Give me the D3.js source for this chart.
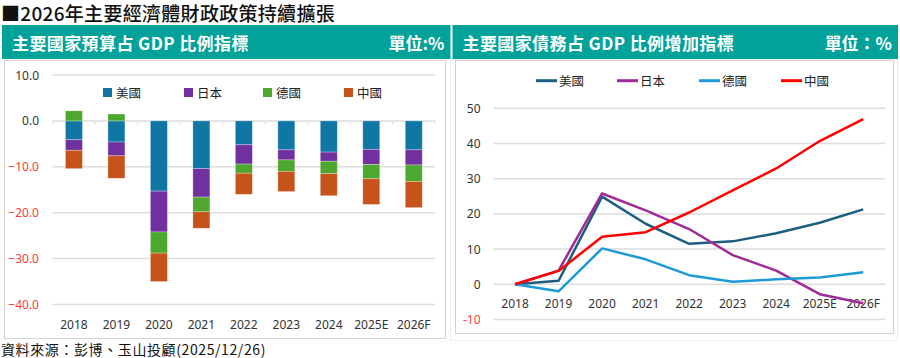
<!DOCTYPE html>
<html><head><meta charset="utf-8">
<script src="https://cdn.jsdelivr.net/npm/d3@7"></script>
<style>
html,body{margin:0;padding:0;background:#fff;}
svg{display:block;font-family:"Noto Sans","Noto Sans CJK TC",sans-serif;}
</style></head><body>
<svg id="c" width="900" height="358"></svg>
<script>
const years = ["2018","2019","2020","2021","2022","2023","2024","2025E","2026F"];
const countries = ["美國","日本","德國","中國"];
// Budget balance (% GDP)
const budgetUS = [-4.1,-4.6,-15.3,-10.4,-5.2,-6.3,-6.8,-6.2,-6.3];
const budgetJP = [-2.3,-3.0,-8.9,-6.2,-4.2,-2.2,-2.0,-3.3,-3.3];
const budgetDE = [2.2,1.5,-4.6,-3.2,-2.0,-2.5,-2.7,-3.1,-3.6];
const budgetCN = [-4.0,-4.9,-6.2,-3.6,-4.6,-4.4,-4.8,-5.6,-5.7];
// Debt increase (% GDP, vs 2018)
const debtUS = [0,1.0,24.9,17.2,11.5,12.2,14.5,17.5,21.3];
const debtJP = [0,3.9,25.8,21.0,15.7,8.3,3.9,-2.8,-5.4];
const debtDE = [0,-2.0,10.2,7.1,2.6,0.7,1.4,1.9,3.4];
const debtCN = [0,3.8,13.5,14.8,20.4,26.7,32.9,40.7,46.9];
const leftTicks = [10,0,-10,-20,-30,-40];
const rightTicks = [50,40,30,20,10,0,-10];

const barColors = ["#1076A3","#7030A0","#4EA72E","#C5531A"];
const lineColors = ["#1D5E80","#A02B98","#1E9BD7","#FF0000"];
const teal = "#00A29A";

const svg = d3.select("#c");

// Title
svg.append("text").attr("x",1).attr("y",12).attr("dominant-baseline","central").attr("font-size",19).attr("font-weight",500)
  .attr("letter-spacing",0.3)
  .attr("fill","#111").attr("font-family","'Noto Sans CJK TC',sans-serif")
  .text("■2026年主要經濟體財政政策持續擴張");

// Banners
function banner(x,w,title,unit){
  svg.append("rect").attr("x",x).attr("y",25).attr("width",w).attr("height",34).attr("fill",teal);
  svg.append("text").attr("x",x+10).attr("y",42).attr("dominant-baseline","central")
    .attr("font-size",17).attr("font-weight","bold").attr("fill","#fff").attr("letter-spacing",0.4)
    .attr("font-family","'Noto Sans CJK TC',sans-serif").text(title);
  svg.append("text").attr("x",x+w-6).attr("y",42).attr("dominant-baseline","central")
    .attr("text-anchor","end").attr("font-size",17).attr("font-weight","bold").attr("fill","#fff")
    .attr("font-family","'Noto Sans CJK TC',sans-serif").text(unit);
}
banner(2,448.5,"主要國家預算占 GDP 比例指標","單位:%");
banner(452.5,445.5,"主要國家債務占 GDP 比例增加指標","單位：%");

// Panels
svg.append("rect").attr("x",450.5).attr("y",59.5).attr("width",447).attr("height",281).attr("fill","none").attr("stroke","#EEEEEE");
svg.append("rect").attr("x",4.5).attr("y",60.5).attr("width",441).attr("height",278).attr("fill","#fff").attr("stroke","#D4D4D4");
svg.append("rect").attr("x",455.5).attr("y",60.5).attr("width",438).attr("height",273).attr("fill","#fff").attr("stroke","#D4D4D4");

// Source
svg.append("text").attr("x",1).attr("y",348.5).attr("dominant-baseline","central")
  .attr("font-size",14).attr("letter-spacing",0.6).attr("fill","#111").attr("font-family","'Noto Sans CJK TC',sans-serif")
  .text("資料來源：彭博、玉山投顧(2025/12/26)");

// ---------- Left chart ----------
const xL = d3.scaleBand().domain(years).range([52.7,435]).paddingInner(0.6).paddingOuter(0.3);
const yL = d3.scaleLinear().domain([-40,10]).range([304.5,75]);
const gL = svg.append("g");
gL.selectAll("line.grid").data(leftTicks).join("line")
  .attr("x1",52.7).attr("x2",435).attr("y1",d=>yL(d)).attr("y2",d=>yL(d))
  .attr("stroke","#DDDDDD").attr("stroke-width",1.5);
gL.selectAll("text.yl").data(leftTicks).join("text")
  .attr("x",39).attr("y",d=>yL(d)).attr("text-anchor","end").attr("dominant-baseline","central")
  .attr("font-size",12).attr("fill",d=>d<0?"#FF3B3B":"#333")
  .text(d=>d3.format(".1f")(d));
// category ticks on zero line
const bounds = years.map(y=>xL(y)-xL.step()*xL.paddingInner()/2).concat([435]);
gL.selectAll("line.tk").data(bounds).join("line")
  .attr("x1",d=>d).attr("x2",d=>d).attr("y1",yL(0)).attr("y2",yL(0)+3.5)
  .attr("stroke","#DDDDDD").attr("stroke-width",1);

const rows = years.map((y,i)=>({year:y,"美國":budgetUS[i],"日本":budgetJP[i],"德國":budgetDE[i],"中國":budgetCN[i]}));
const stack = d3.stack().keys(countries).offset(d3.stackOffsetDiverging)(rows);
gL.selectAll("g.s").data(stack).join("g").attr("fill",(d,i)=>barColors[i])
  .selectAll("rect").data(d=>d).join("rect")
  .attr("x",d=>xL(d.data.year)).attr("width",xL.bandwidth())
  .attr("y",d=>yL(Math.max(d[0],d[1]))).attr("height",d=>Math.abs(yL(d[0])-yL(d[1])))
  .attr("stroke","rgba(255,255,255,0.35)").attr("stroke-width",0.8);
gL.selectAll("text.xl").data(years).join("text")
  .attr("x",d=>xL(d)+xL.bandwidth()/2).attr("y",324).attr("text-anchor","middle").attr("dominant-baseline","central")
  .attr("font-size",12).attr("fill","#333").text(d=>d);
// legend
const legL = [103,184,263,344];
countries.forEach((c,i)=>{
  gL.append("rect").attr("x",legL[i]).attr("y",88).attr("width",9).attr("height",9).attr("fill",barColors[i]);
  gL.append("text").attr("x",legL[i]+13).attr("y",92.5).attr("dominant-baseline","central")
    .attr("font-size",12.5).attr("fill","#222").attr("font-family","'Noto Sans CJK TC',sans-serif").text(c);
});

// ---------- Right chart ----------
const xR = d3.scaleBand().domain(years).range([493.3,885]);
const yR = d3.scaleLinear().domain([-10,50]).range([319.5,108.3]);
const gR = svg.append("g");
gR.selectAll("line.grid").data(rightTicks).join("line")
  .attr("x1",493.3).attr("x2",885).attr("y1",d=>yR(d)).attr("y2",d=>yR(d))
  .attr("stroke","#DDDDDD").attr("stroke-width",1.5);
gR.selectAll("text.yl").data(rightTicks).join("text")
  .attr("x",480.5).attr("y",d=>yR(d)).attr("text-anchor","end").attr("dominant-baseline","central")
  .attr("font-size",12).attr("fill",d=>d<0?"#FF3B3B":"#333").text(d=>d);
gR.selectAll("text.xl").data(years).join("text")
  .attr("x",d=>xR(d)+xR.bandwidth()/2).attr("y",303).attr("text-anchor","middle").attr("dominant-baseline","central")
  .attr("font-size",12).attr("fill","#333").text(d=>d);
const series = [debtUS,debtJP,debtDE,debtCN];
const line = d3.line().x((d,i)=>xR(years[i])+xR.bandwidth()/2).y(d=>yR(d));
series.forEach((s,i)=>{
  gR.append("path").attr("d",line(s)).attr("fill","none").attr("stroke",lineColors[i])
    .attr("stroke-width",2.5).attr("stroke-linejoin","round");
});
const legR = [536,617,699,781];
countries.forEach((c,i)=>{
  gR.append("line").attr("x1",legR[i]).attr("x2",legR[i]+21).attr("y1",80.7).attr("y2",80.7)
    .attr("stroke",lineColors[i]).attr("stroke-width",3);
  gR.append("text").attr("x",legR[i]+23).attr("y",80.7).attr("dominant-baseline","central")
    .attr("font-size",12.5).attr("fill","#222").attr("font-family","'Noto Sans CJK TC',sans-serif").text(c);
});
</script></body></html>
